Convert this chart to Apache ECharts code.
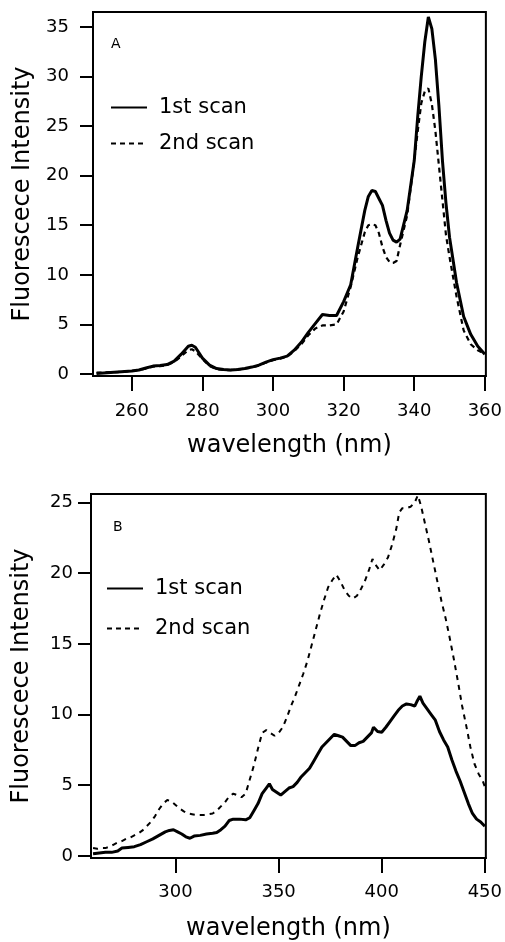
<!DOCTYPE html>
<html>
<head>
<meta charset="utf-8">
<script src="https://cdn.jsdelivr.net/npm/echarts@6/dist/echarts.min.js"></script>
<style>
html,body{margin:0;padding:0;background:#fff;}
#chart{width:505px;height:942px;}
</style>
</head>
<body>
<div id="chart"></div>
<script>
// ---- Panel A data ----
var wavelengthA = [250,252,254,256,258,260,262,264,266,268,270,272,274,276,277,278,280,282,284,286,288,290,292,294,296,298,300,302,304,306,308,310,312,314,316,318,320,322,324,326,327,328,329,330,331,332,333,334,335,336,338,340,341,342,343,344,345,346,347,348,349,350,352,354,356,358,360];
var scan1A = [0.05,0.1,0.15,0.2,0.25,0.3,0.4,0.6,0.8,0.85,0.95,1.3,2.0,2.8,2.9,2.7,1.6,0.9,0.55,0.45,0.4,0.45,0.55,0.7,0.9,1.2,1.45,1.6,1.8,2.4,3.2,4.2,5.1,6.0,5.9,5.9,7.3,9.0,12.8,16.5,17.9,18.5,18.4,17.7,17.0,15.5,14.2,13.5,13.3,13.6,16.5,21.5,26,30,33.5,36.0,34.8,31.7,27,21.5,17.2,13.8,9.2,5.8,4.0,2.8,2.0];
var scan2A = [0.15,0.15,0.2,0.2,0.25,0.3,0.4,0.55,0.75,0.8,0.9,1.2,1.8,2.4,2.5,2.3,1.5,0.8,0.5,0.4,0.4,0.45,0.55,0.65,0.85,1.15,1.4,1.55,1.75,2.3,3.0,3.9,4.6,4.9,4.9,5.0,6.3,8.8,11.8,14.3,15.0,15.1,15.0,14.2,12.8,11.8,11.3,11.2,11.4,13.0,16.0,21.5,24.5,27.3,28.5,28.8,27.2,24.5,21.0,17.5,14.0,11.8,7.8,4.4,3.0,2.4,2.0];
var xTicksA = [260,280,300,320,340,360];
var yTicksA = [0,5,10,15,20,25,30,35];

// ---- Panel B data ----
var wavelengthB1 = [260,263,266,269,272,274,277,280,283,286,289,292,295,297,299,301,303,305,307,309,312,315,318,320,322,324,326,328,331,334,336,338,340,342,344,345.5,347,349,351,353,355,357,359,361,363,365,367,369,371,373,375,377,379,381,383,385,387,389,391,393,395,396,398,400,402,404,406,408,410,412,414,416,417,418.5,420,422,424,426,428,430,432,434,436,438,440,442,444,446,448,450];
var scan1B = [0.15,0.2,0.25,0.25,0.35,0.55,0.6,0.65,0.8,1.0,1.2,1.45,1.7,1.8,1.85,1.7,1.55,1.35,1.25,1.4,1.45,1.55,1.6,1.65,1.85,2.1,2.5,2.6,2.6,2.55,2.7,3.2,3.7,4.4,4.8,5.1,4.7,4.5,4.3,4.55,4.8,4.9,5.2,5.6,5.9,6.2,6.7,7.2,7.7,8.0,8.3,8.6,8.5,8.4,8.1,7.8,7.8,8.0,8.1,8.4,8.7,9.1,8.8,8.75,9.1,9.5,9.9,10.3,10.6,10.75,10.7,10.6,10.9,11.3,10.8,10.4,10.0,9.6,8.8,8.2,7.7,6.8,6.0,5.3,4.5,3.7,3.0,2.6,2.4,2.1];
var wavelengthB2 = [260,262,264,266,268,270,272,274,276,278,280,282,284,286,288,290,292,294,296,298,300,302,304,306,308,310,312,314,316,318,320,322,324,326,328,330,332,334,336,338,340,342,344,346,348,350,352,354,356,358,360,362,364,366,368,370,372,374,376,378,380,382,384,386,388,390,392,394,395.5,397,399,401,403,405,407,408.5,410,412,414,416,417.5,419,421,423,425,427,429,431,433,435,437,439,441,443,445,447,449,450];
var scan2B = [0.55,0.5,0.55,0.55,0.65,0.8,0.95,1.05,1.2,1.3,1.45,1.6,1.8,2.1,2.4,2.8,3.3,3.7,3.95,3.85,3.6,3.35,3.15,3.0,2.95,2.9,2.9,2.9,2.95,3.0,3.2,3.5,3.8,4.2,4.4,4.3,4.15,4.4,5.4,6.4,7.6,8.7,8.9,8.7,8.5,8.7,9.1,9.8,10.6,11.3,12.1,12.9,13.8,14.9,16.0,17.1,18.1,19.0,19.5,19.9,19.4,18.8,18.4,18.2,18.4,18.9,19.5,20.3,21.0,20.6,20.2,20.6,21.1,22.0,23.1,24.3,24.6,24.6,24.7,25.0,25.5,24.8,23.5,22.2,20.8,19.4,18.0,16.8,15.4,13.9,12.3,10.6,9.2,7.7,6.5,5.8,5.3,4.9];
var xTicksB = [300,350,400,450];
var yTicksB = [0,5,10,15,20,25];

var seriesNames = ['1st scan','2nd scan'];
var xTitle = 'wavelength (nm)';
var yTitle = 'Fluorescece Intensity';
var panelLabels = ['A','B'];

function pairs(xs, ys){ return xs.map(function(x,i){ return [x, ys[i]]; }); }

var FONT = 'DejaVu Sans';

function xAxisCfg(idx, min, max, ticks, margin, gap){
  return {
    gridIndex: idx, type: 'value', min: min, max: max,
    axisLine: {show: true, onZero: false, lineStyle: {color: '#000', width: 2}},
    axisTick: {show: true, length: 15, customValues: ticks, lineStyle: {color: '#000', width: 2}},
    axisLabel: {customValues: ticks, margin: margin, fontSize: 18, color: '#000', fontFamily: FONT},
    splitLine: {show: false},
    name: xTitle, nameLocation: 'middle', nameGap: gap,
    nameTextStyle: {fontSize: 24, color: '#000', fontFamily: FONT}
  };
}
function yAxisCfg(idx, min, max, ticks, margin, gap){
  return {
    gridIndex: idx, type: 'value', min: min, max: max,
    axisLine: {show: true, onZero: false, lineStyle: {color: '#000', width: 2}},
    axisTick: {show: true, length: 13, customValues: ticks, lineStyle: {color: '#000', width: 2}},
    axisLabel: {customValues: ticks, margin: margin, fontSize: 18, color: '#000', fontFamily: FONT},
    splitLine: {show: false},
    name: yTitle, nameLocation: 'middle', nameGap: gap,
    nameTextStyle: {fontSize: 24, color: '#000', fontFamily: FONT}
  };
}
function legendCfg(left, top, gap){
  return {
    data: seriesNames, orient: 'vertical', left: left, top: top,
    itemWidth: 36, itemHeight: 14, itemGap: gap, padding: 0,
    selectedMode: false,
    itemStyle: {color: 'transparent', borderColor: 'transparent', borderWidth: 0},
    textStyle: {fontSize: 21, color: '#000', fontFamily: FONT, padding: [0,0,0,7]}
  };
}

var chart = echarts.init(document.getElementById('chart'), null, {renderer: 'canvas'});
chart.setOption({
  animation: false,
  backgroundColor: '#fff',
  title: [
    {text: panelLabels[0], left: 111, top: 37, padding: 0, textStyle: {fontSize: 14, fontWeight: 'normal', color: '#000', fontFamily: FONT}},
    {text: panelLabels[1], left: 113, top: 520, padding: 0, textStyle: {fontSize: 14, fontWeight: 'normal', color: '#000', fontFamily: FONT}}
  ],
  legend: [legendCfg(110, 97, 15), legendCfg(106, 578, 19)],
  grid: [
    {left: 93, top: 12, width: 397, height: 364, show: true, borderColor: '#000', borderWidth: 2, backgroundColor: 'transparent'},
    {left: 91, top: 494, width: 397, height: 366, show: true, borderColor: '#000', borderWidth: 2, backgroundColor: 'transparent'}
  ],
  xAxis: [
    xAxisCfg(0, 249, 360.3, xTicksA, 26, 58),
    xAxisCfg(1, 259, 450.5, xTicksB, 25, 59)
  ],
  yAxis: [
    yAxisCfg(0, -0.2, 36.5, yTicksA, 24, 57),
    yAxisCfg(1, -0.15, 25.6, yTicksB, 18, 57)
  ],
  series: [
    {name: seriesNames[0], type: 'line', xAxisIndex: 0, yAxisIndex: 0, data: pairs(wavelengthA, scan1A), symbol: 'none', lineStyle: {color: '#000', width: 3}, itemStyle: {color: '#000'}},
    {name: seriesNames[1], type: 'line', xAxisIndex: 0, yAxisIndex: 0, data: pairs(wavelengthA, scan2A), symbol: 'none', lineStyle: {color: '#000', width: 2.2, type: [5,4]}, itemStyle: {color: '#000'}},
    {name: seriesNames[0], type: 'line', xAxisIndex: 1, yAxisIndex: 1, data: pairs(wavelengthB1, scan1B), symbol: 'none', lineStyle: {color: '#000', width: 3}, itemStyle: {color: '#000'}},
    {name: seriesNames[1], type: 'line', xAxisIndex: 1, yAxisIndex: 1, data: pairs(wavelengthB2, scan2B), symbol: 'none', lineStyle: {color: '#000', width: 2, type: [5,5]}, itemStyle: {color: '#000'}}
  ]
});
</script>
</body>
</html>
